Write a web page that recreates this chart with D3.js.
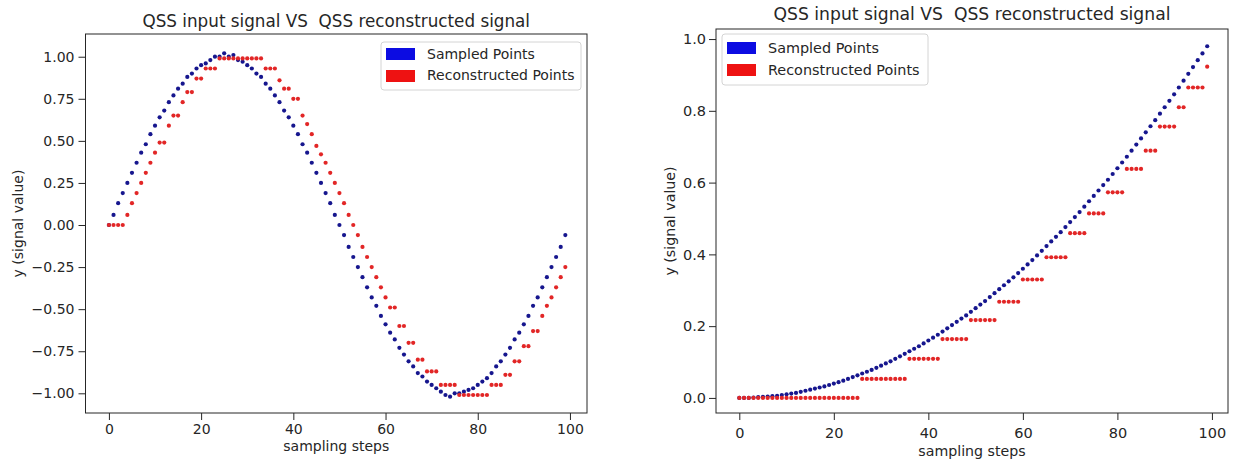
<!DOCTYPE html>
<html lang="en">
<head>
<meta charset="utf-8"/>
<title>QSS input signal VS QSS reconstructed signal</title>
<script src="https://cdn.jsdelivr.net/npm/d3@7"></script>
<style>
  body { margin: 0; background: #fff; }
  svg { display: block; font-family: "DejaVu Sans", sans-serif; }
</style>
</head>
<body>
<div id="chart"></div>
<script>

// sampling step index (0..99)
var steps = d3.range(100);

// left panel: sine input
var sineSampled = [
  0.00, 0.06, 0.13, 0.19, 0.25, 0.31, 0.37, 0.43, 0.48, 0.54,
  0.59, 0.64, 0.68, 0.73, 0.77, 0.81, 0.84, 0.88, 0.90, 0.93,
  0.95, 0.96, 0.98, 1.00, 1.00, 1.02, 1.00, 1.01, 0.98, 0.97,
  0.95, 0.93, 0.90, 0.88, 0.84, 0.81, 0.77, 0.73, 0.68, 0.64,
  0.59, 0.54, 0.48, 0.43, 0.37, 0.31, 0.25, 0.19, 0.13, 0.06,
  0.00, -0.06, -0.13, -0.19, -0.25, -0.31, -0.37, -0.43, -0.48, -0.54,
  -0.59, -0.64, -0.68, -0.73, -0.77, -0.81, -0.84, -0.88, -0.90, -0.93,
  -0.95, -0.97, -0.99, -1.01, -1.02, -1.00, -1.00, -0.99, -0.98, -0.97,
  -0.95, -0.93, -0.91, -0.88, -0.84, -0.81, -0.77, -0.73, -0.68, -0.64,
  -0.59, -0.54, -0.48, -0.43, -0.37, -0.31, -0.25, -0.19, -0.13, -0.06
];
var sineReconstructed = [
  0.00, 0.00, 0.00, 0.00, 0.06, 0.13, 0.19, 0.25, 0.31, 0.37,
  0.43, 0.49, 0.49, 0.59, 0.65, 0.65, 0.73, 0.79, 0.79, 0.87,
  0.87, 0.93, 0.93, 0.93, 0.99, 0.99, 0.99, 0.99, 0.99, 0.99,
  0.99, 0.99, 0.99, 0.99, 0.93, 0.93, 0.93, 0.86, 0.81, 0.81,
  0.75, 0.75, 0.65, 0.60, 0.54, 0.47, 0.42, 0.37, 0.31, 0.25,
  0.19, 0.13, 0.06, 0.00, -0.06, -0.13, -0.19, -0.25, -0.31, -0.37,
  -0.43, -0.49, -0.49, -0.60, -0.60, -0.70, -0.70, -0.80, -0.80, -0.87,
  -0.87, -0.87, -0.95, -0.95, -0.95, -0.95, -1.01, -1.01, -1.01, -1.01,
  -1.01, -1.01, -1.01, -0.95, -0.95, -0.95, -0.89, -0.89, -0.81, -0.81,
  -0.72, -0.72, -0.63, -0.63, -0.54, -0.48, -0.43, -0.37, -0.31, -0.25
];

// right panel: ramp input
var rampSampled = [
  0.000, 0.000, 0.000, 0.001, 0.002, 0.003, 0.004, 0.005, 0.006, 0.008,
  0.010, 0.012, 0.014, 0.017, 0.020, 0.023, 0.026, 0.029, 0.032, 0.036,
  0.040, 0.044, 0.048, 0.053, 0.058, 0.063, 0.068, 0.073, 0.078, 0.084,
  0.090, 0.096, 0.102, 0.109, 0.116, 0.123, 0.130, 0.137, 0.144, 0.152,
  0.160, 0.168, 0.176, 0.185, 0.194, 0.203, 0.212, 0.221, 0.230, 0.240,
  0.250, 0.260, 0.270, 0.281, 0.292, 0.303, 0.314, 0.325, 0.336, 0.348,
  0.360, 0.372, 0.384, 0.397, 0.410, 0.423, 0.436, 0.449, 0.462, 0.476,
  0.490, 0.504, 0.518, 0.533, 0.548, 0.563, 0.578, 0.593, 0.608, 0.624,
  0.640, 0.656, 0.672, 0.689, 0.706, 0.723, 0.740, 0.757, 0.774, 0.792,
  0.810, 0.828, 0.846, 0.865, 0.884, 0.903, 0.922, 0.941, 0.960, 0.980
];
var rampReconstructed = [
  0.000, 0.000, 0.000, 0.000, 0.000, 0.000, 0.000, 0.000, 0.000, 0.000,
  0.000, 0.000, 0.000, 0.000, 0.000, 0.000, 0.000, 0.000, 0.000, 0.000,
  0.000, 0.000, 0.000, 0.000, 0.000, 0.000, 0.053, 0.053, 0.053, 0.053,
  0.053, 0.053, 0.053, 0.053, 0.053, 0.053, 0.109, 0.109, 0.109, 0.109,
  0.109, 0.109, 0.109, 0.164, 0.164, 0.164, 0.164, 0.164, 0.164, 0.217,
  0.217, 0.217, 0.217, 0.217, 0.217, 0.268, 0.268, 0.268, 0.268, 0.268,
  0.330, 0.330, 0.330, 0.330, 0.330, 0.392, 0.392, 0.392, 0.392, 0.392,
  0.459, 0.459, 0.459, 0.459, 0.514, 0.514, 0.514, 0.514, 0.573, 0.573,
  0.573, 0.573, 0.638, 0.638, 0.638, 0.638, 0.689, 0.689, 0.689, 0.756,
  0.756, 0.756, 0.756, 0.810, 0.810, 0.865, 0.865, 0.865, 0.865, 0.923
];

// tick labels
var stepTicks = [0, 20, 40, 60, 80, 100];
var sineTicks = [-1, -0.75, -0.5, -0.25, 0, 0.25, 0.5, 0.75, 1];
var rampTicks = [0, 0.2, 0.4, 0.6, 0.8, 1.0];
var legendLabels = ["Sampled Points", "Reconstructed Points"];
var titleText = "QSS input signal VS  QSS reconstructed signal";
var xLabelText = "sampling steps";
var yLabelText = "y (signal value)";

// colours
var dotColours = ["#16168e", "#e22626"];
var patchColours = ["#0c0ce2", "#ee1212"];
var inkColour = "#262626";

var svg = d3.select("#chart")
  .append("svg")
  .attr("width", 1236)
  .attr("height", 462);

svg.append("rect")
  .attr("width", 1236)
  .attr("height", 462)
  .attr("fill", "#fff");

// put a piece of text at x,y
function addText(g, str, x, y, size, anchor, rotate) {
  return g.append("text")
    .attr("transform", "translate(" + x + "," + y + ")" + (rotate ? " rotate(" + rotate + ")" : ""))
    .attr("text-anchor", anchor)
    .attr("font-size", size)
    .attr("fill", inkColour)
    .style("white-space", "pre")
    .text(str);
}

function drawPanel(cfg) {
  var x = d3.scaleLinear().domain(cfg.xDomain).range([cfg.left, cfg.right]);
  var y = d3.scaleLinear().domain(cfg.yDomain).range([cfg.bottom, cfg.top]);
  var g = svg.append("g");

  // sampled points first, reconstructed on top
  [cfg.sampled, cfg.reconstructed].forEach(function(series, s) {
    g.append("g")
      .selectAll("circle")
      .data(series)
      .enter()
      .append("circle")
      .attr("cx", function(d, i) { return x(steps[i]); })
      .attr("cy", function(d) { return y(d); })
      .attr("r", 2.1)
      .attr("fill", dotColours[s]);
  });

  // frame
  g.append("rect")
    .attr("x", cfg.left)
    .attr("y", cfg.top)
    .attr("width", cfg.right - cfg.left)
    .attr("height", cfg.bottom - cfg.top)
    .attr("fill", "none")
    .attr("stroke", inkColour)
    .attr("stroke-width", 1);

  // x axis
  var xAxis = g.append("g")
    .attr("transform", "translate(0," + cfg.bottom + ")")
    .call(d3.axisBottom(x).tickValues(stepTicks).tickSize(7).tickPadding(cfg.xPad).tickFormat(d3.format("d")));
  // y axis
  var yAxis = g.append("g")
    .attr("transform", "translate(" + cfg.left + ",0)")
    .call(d3.axisLeft(y).tickValues(cfg.yTicks).tickSize(7).tickPadding(cfg.yPad).tickFormat(d3.format(cfg.yFormat)));

  [xAxis, yAxis].forEach(function(a) {
    a.select(".domain").remove();
    a.selectAll("line").attr("stroke", inkColour);
    a.selectAll("text")
      .attr("font-family", "DejaVu Sans")
      .attr("font-size", cfg.tickSize)
      .attr("fill", inkColour);
  });

  // title and axis labels
  addText(g, titleText, (cfg.left + cfg.right) / 2, cfg.titleY, cfg.titleSize, "middle");
  addText(g, xLabelText, (cfg.left + cfg.right) / 2, cfg.xLabelY, cfg.labelSize, "middle");
  addText(g, yLabelText, cfg.yLabelX, (cfg.top + cfg.bottom) / 2, cfg.labelSize, "middle", -90);

  // legend
  var lg = cfg.legend;
  g.append("rect")
    .attr("x", lg.x)
    .attr("y", lg.y)
    .attr("width", lg.w)
    .attr("height", lg.h)
    .attr("rx", 3)
    .attr("fill", "#fff")
    .attr("stroke", "#d4d4d4");
  legendLabels.forEach(function(label, i) {
    g.append("rect")
      .attr("x", lg.x + 5)
      .attr("y", lg.patchY[i])
      .attr("width", 29)
      .attr("height", 12)
      .attr("fill", patchColours[i]);
    addText(g, label, lg.x + 46, lg.textY[i], lg.size, "start");
  });
}

// left panel
drawPanel({
  left: 85.5, right: 587, top: 34, bottom: 413,
  xDomain: [-5.08, 103.7], yDomain: [-1.117, 1.135],
  sampled: sineSampled, reconstructed: sineReconstructed,
  yTicks: sineTicks, yFormat: ".2f",
  tickSize: 14, xPad: 4, yPad: 4,
  titleY: 27, titleSize: 16.8,
  xLabelY: 451, yLabelX: 23, labelSize: 14,
  legend: { x: 381, y: 42, w: 200, h: 48, patchY: [48, 70], textY: [58.5, 80], size: 14 }
});

// right panel
drawPanel({
  left: 716, right: 1228, top: 29, bottom: 413,
  xDomain: [-4.93, 103.4], yDomain: [-0.042, 1.028],
  sampled: rampSampled, reconstructed: rampReconstructed,
  yTicks: rampTicks, yFormat: ".1f",
  tickSize: 14.5, xPad: 8, yPad: 3,
  titleY: 20, titleSize: 17.2,
  xLabelY: 456, yLabelX: 675, labelSize: 14.2,
  legend: { x: 722, y: 34, w: 206, h: 51, patchY: [42, 64], textY: [53, 74.5], size: 14.4 }
});

</script>
</body>
</html>
